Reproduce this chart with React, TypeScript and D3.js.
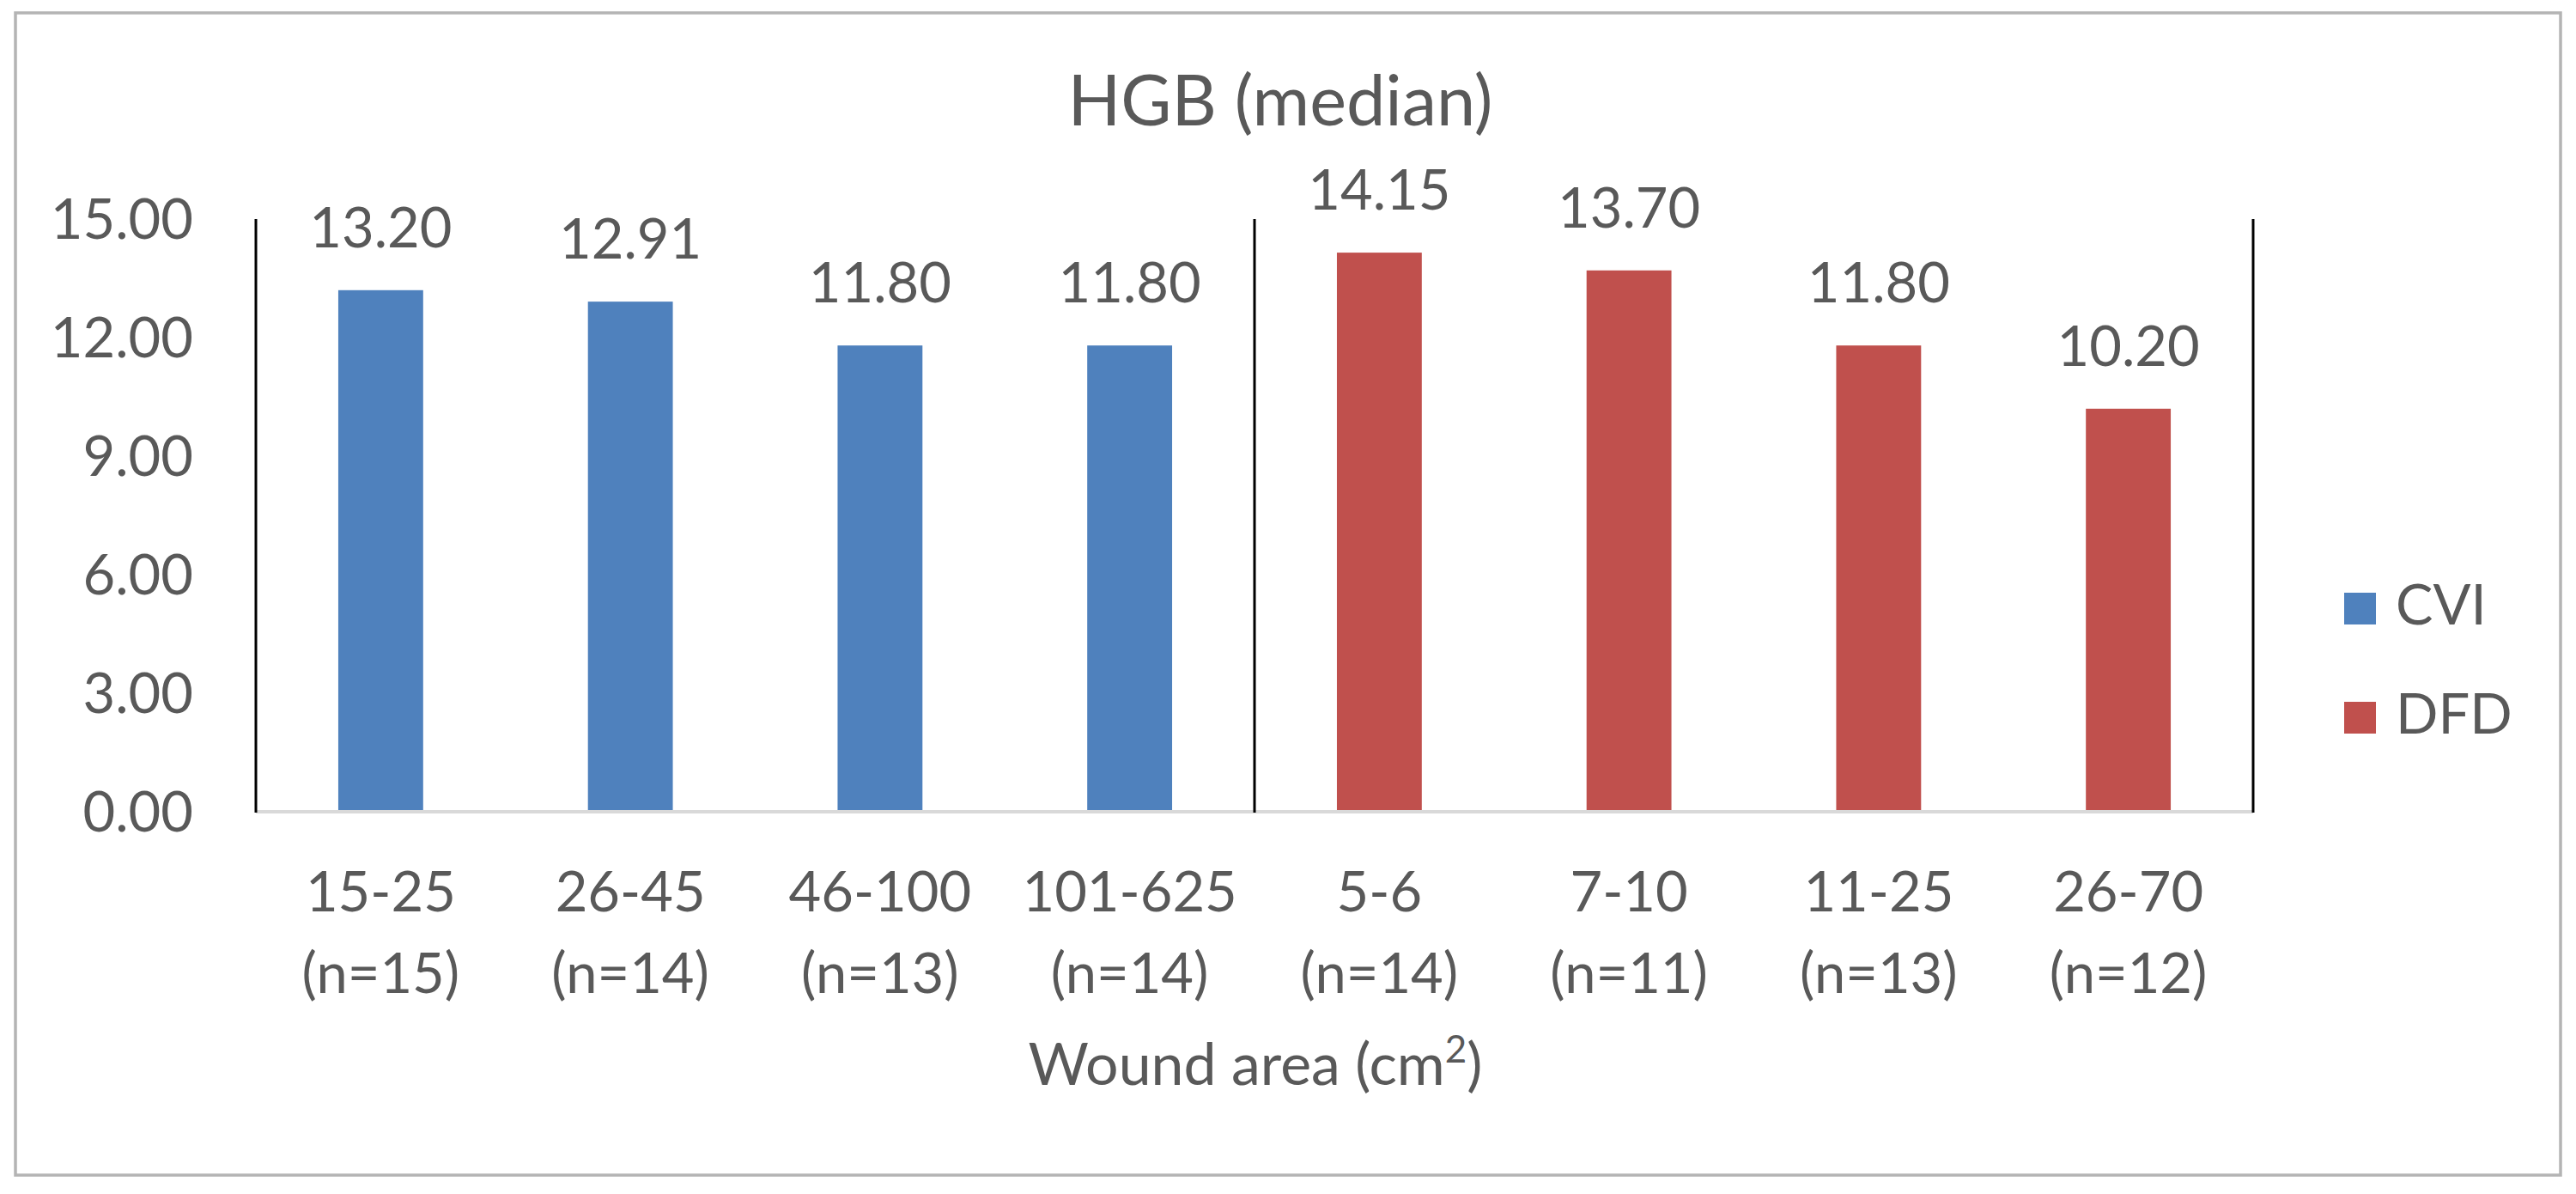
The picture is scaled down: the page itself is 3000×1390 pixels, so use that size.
import React from "react";
import * as d3 from "d3";

const categories = ["15-25", "26-45", "46-100", "101-625", "5-6", "7-10", "11-25", "26-70"];
const counts = ["(n=15)", "(n=14)", "(n=13)", "(n=14)", "(n=14)", "(n=11)", "(n=13)", "(n=12)"];
const groups = ["CVI", "CVI", "CVI", "CVI", "DFD", "DFD", "DFD", "DFD"];
const values = [13.2, 12.91, 11.8, 11.8, 14.15, 13.7, 11.8, 10.2];
const yTicks = [0, 3, 6, 9, 12, 15];
const seriesNames = ["CVI", "DFD"];
const seriesColors = ["#4f81bd", "#c0504d"];
const separatorIdx = [0, 4, 8];

const W = 3000;
const H = 1390;
const FONT = "Lato, 'Open Sans', sans-serif";
const TXT = "#595959";

export default function App() {
  const x = d3
    .scaleBand<string>()
    .domain(categories)
    .range([298, 2624])
    .paddingInner(0.66)
    .paddingOuter(0.33);
  const step = x.step();
  const y = d3.scaleLinear().domain([0, 15]).range([945, 255]);
  const color = d3.scaleOrdinal<string, string>().domain(seriesNames).range(seriesColors);
  const fmt = d3.format(".2f");
  const x0 = 298;

  return (
    <svg
      width={W}
      height={H}
      style={{ position: "absolute", left: 0, top: 0, background: "#fff" }}
      fontFamily={FONT}
    >
      <rect x={0} y={0} width={W} height={H} fill="#fff" />
      <rect x={18} y={15} width={2964} height={1353} fill="#fff" stroke="#b4b4b4" strokeWidth={3.5} />

      <text x={1491} y={146} textAnchor="middle" fontSize={81} fill={TXT}>
        HGB (median)
      </text>

      {yTicks.map((t) => (
        <text key={t} x={225} y={y(t) + 23} textAnchor="end" fontSize={65} fill={TXT}>
          {fmt(t)}
        </text>
      ))}

      {categories.map((c, i) => (
        <rect
          key={c + i}
          x={x(c)}
          y={y(values[i])}
          width={x.bandwidth()}
          height={y(0) - y(values[i])}
          fill={color(groups[i])}
        />
      ))}

      <line x1={x0} x2={2624} y1={y(0)} y2={y(0)} stroke="#d9d9d9" strokeWidth={4} />

      {separatorIdx.map((k) => (
        <line
          key={k}
          x1={x0 + k * step}
          x2={x0 + k * step}
          y1={y(15)}
          y2={y(0) + 1}
          stroke="#000"
          strokeWidth={3}
        />
      ))}

      {categories.map((c, i) => (
        <text
          key={"v" + i}
          x={(x(c) as number) + x.bandwidth() / 2}
          y={y(values[i]) - 50}
          textAnchor="middle"
          fontSize={65}
          fill={TXT}
        >
          {fmt(values[i])}
        </text>
      ))}

      {categories.map((c, i) => (
        <g key={"c" + i} fill={TXT} fontSize={65}>
          <text x={(x(c) as number) + x.bandwidth() / 2} y={1061} textAnchor="middle">
            {c}
          </text>
          <text x={(x(c) as number) + x.bandwidth() / 2} y={1156} textAnchor="middle">
            {counts[i]}
          </text>
        </g>
      ))}

      <text x={1462} y={1263} textAnchor="middle" fontSize={68} fill={TXT}>
        Wound area (cm
        <tspan fontSize={44} dy={-26}>2</tspan>
        <tspan dy={26}>)</tspan>
      </text>

      {seriesNames.map((s, i) => (
        <g key={s}>
          <rect x={2730} y={690 + i * 127} width={37} height={37} fill={color(s)} />
          <text x={2790} y={727 + i * 127} fontSize={65} fill={TXT}>
            {s}
          </text>
        </g>
      ))}
    </svg>
  );
}
